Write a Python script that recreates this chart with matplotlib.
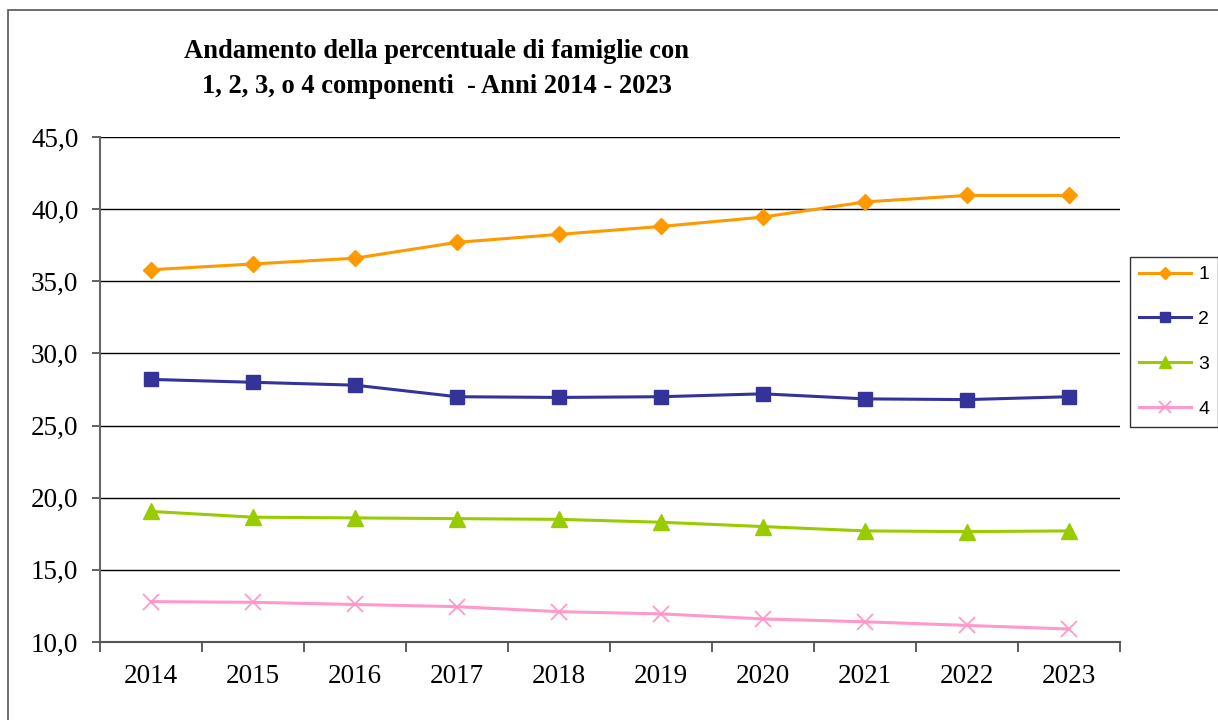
import matplotlib
matplotlib.use("Agg")
import matplotlib.pyplot as plt
from matplotlib.ticker import FuncFormatter, FixedLocator
from matplotlib.patches import Rectangle

years = ["2014", "2015", "2016", "2017", "2018", "2019", "2020", "2021", "2022", "2023"]
s1 = [35.8, 36.2, 36.6, 37.7, 38.25, 38.8, 39.45, 40.5, 40.95, 40.95]
s2 = [28.2, 28.0, 27.8, 27.0, 26.95, 27.0, 27.2, 26.85, 26.8, 27.0]
s3 = [19.05, 18.65, 18.6, 18.55, 18.5, 18.3, 18.0, 17.7, 17.65, 17.7]
s4 = [12.8, 12.75, 12.6, 12.45, 12.1, 11.95, 11.6, 11.4, 11.15, 10.9]
series_names = ["1", "2", "3", "4"]
title = "Andamento della percentuale di famiglie con\n1, 2, 3, o 4 componenti  - Anni 2014 - 2023"

colors = ["#FF9900", "#333399", "#99CC00", "#FF99CC"]
markers = ["D", "s", "^", "x"]
msizes = [8.5, 10.5, 12, 12]

W, H = 1218, 720
fig = plt.figure(figsize=(W / 100, H / 100), dpi=100)
fig.patch.set_facecolor("white")

# chart-area border
fig.add_artist(Rectangle((8 / W, -0.05), 1.2, (720 - 10) / H + 0.05, transform=fig.transFigure,
                         fill=False, edgecolor="#555555", linewidth=1.2))

ax = fig.add_axes([100 / W, (720 - 642) / H, 1020 / W, 505 / H])
x = list(range(len(years)))
for data, c, m, ms, name in zip([s1, s2, s3, s4], colors, markers, msizes, series_names):
    kw = dict(color=c, linewidth=2.2, marker=m, markersize=ms, markerfacecolor=c,
              markeredgecolor=c, label=name, clip_on=False, zorder=3)
    if m == "x":
        kw["markeredgewidth"] = 1.3
    ax.plot(x, data, **kw)

ax.set_xlim(-0.5, len(years) - 0.5)
ax.set_ylim(10, 45)
ax.yaxis.set_major_locator(FixedLocator([10, 15, 20, 25, 30, 35, 40, 45]))
ax.yaxis.set_major_formatter(FuncFormatter(lambda v, p: f"{v:.1f}".replace(".", ",")))
ax.set_xticks([i - 0.5 for i in range(len(years) + 1)])
ax.set_xticklabels([])
ax.set_xticks(x, minor=True)
ax.set_xticklabels(years, minor=True)
ax.tick_params(axis="x", which="minor", length=0, pad=16)
ax.tick_params(axis="x", which="major", length=7.5, width=1.2, color="#444444", direction="out")
ax.tick_params(axis="y", length=5.5, width=1.2, color="#444444", direction="out", pad=10)
for lab in ax.get_xticklabels(minor=True) + ax.get_yticklabels():
    lab.set_fontfamily("Liberation Serif")
    lab.set_fontsize(19.5)

ax.grid(axis="y", color="black", linewidth=1.0)
ax.set_axisbelow(True)
for sp in ["top", "right"]:
    ax.spines[sp].set_visible(False)
ax.spines["left"].set_color("#666666")
ax.spines["left"].set_linewidth(1.5)
ax.spines["bottom"].set_color("#555555")
ax.spines["bottom"].set_linewidth(1.5)

fig.text(437 / W, 1 - 69 / H, title, ha="center", va="center", fontfamily="Liberation Serif",
         fontweight="bold", fontsize=19.1, linespacing=1.5)

leg = fig.legend(loc="upper left", bbox_to_anchor=(1130 / W, 1 - 257 / H), frameon=True,
                 fancybox=False, edgecolor="black", handlelength=2.7, labelspacing=1.4,
                 prop={"family": "Liberation Sans", "size": 14}, borderpad=0.45,
                 borderaxespad=0, handletextpad=0.35, markerscale=0.7)
leg.get_frame().set_linewidth(1.0)

fig.savefig("out.png", dpi=100)
